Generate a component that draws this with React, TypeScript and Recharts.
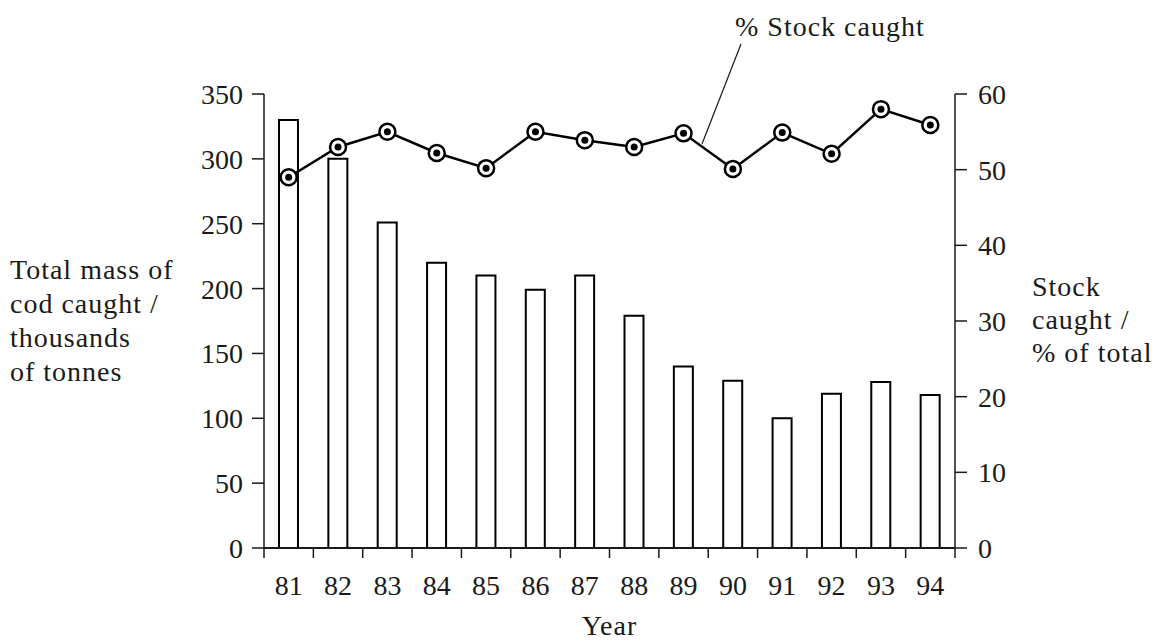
import { Bar, ComposedChart, Line, XAxis, YAxis } from 'recharts'

const years = ['81', '82', '83', '84', '85', '86', '87', '88', '89', '90', '91', '92', '93', '94']
// total mass of cod caught, thousands of tonnes
const massCaught = [330, 300, 251, 220, 210, 199, 210, 179, 140, 129, 100, 119, 128, 118]
// % of stock caught
const stockPct = [49, 53, 55, 52.2, 50.2, 55, 53.9, 53, 54.8, 50.1, 54.9, 52.1, 58, 55.9]
const massTicks = [0, 50, 100, 150, 200, 250, 300, 350]
const pctTicks = [0, 10, 20, 30, 40, 50, 60]

const W = 1169
const H = 642
const PLOT_LEFT = 264
const PLOT_RIGHT = 955
const PLOT_TOP = 94
const PLOT_BOTTOM = 548
const AXIS_W = 60
const XAXIS_H = 60
const FONT = '"Liberation Serif", "Times New Roman", serif'
const FS = 28
const INK = '#1a1a1a'

const data = years.map((year, i) => ({ year, mass: massCaught[i], pct: stockPct[i] }))

function YearTick(props: any) {
  const { x, payload, index } = props
  const band = (PLOT_RIGHT - PLOT_LEFT) / years.length
  return (
    <g>
      <line x1={x - band / 2} x2={x - band / 2} y1={PLOT_BOTTOM} y2={PLOT_BOTTOM + 10} stroke={INK} strokeWidth={1.5} />
      {index === years.length - 1 && (
        <line x1={x + band / 2} x2={x + band / 2} y1={PLOT_BOTTOM} y2={PLOT_BOTTOM + 10} stroke={INK} strokeWidth={1.5} />
      )}
      <text x={x} y={595} textAnchor="middle" fontFamily={FONT} fontSize={FS} fill={INK}>
        {payload.value}
      </text>
    </g>
  )
}

function RingDot(props: any) {
  const { cx, cy } = props
  if (cx == null || cy == null) return null
  return (
    <g>
      <circle cx={cx} cy={cy} r={8} fill="#fff" stroke="#000" strokeWidth={2.5} />
      <circle cx={cx} cy={cy} r={3.5} fill="#000" />
    </g>
  )
}

const tickStyle = { fontFamily: FONT, fontSize: FS, fill: INK }

export default function App() {
  return (
    <div style={{ position: 'absolute', left: 0, top: 0, width: W, height: H, background: '#fff' }}>
      <ComposedChart
        width={W}
        height={H}
        data={data}
        margin={{
          top: PLOT_TOP,
          left: PLOT_LEFT - AXIS_W,
          right: W - PLOT_RIGHT - AXIS_W,
          bottom: H - PLOT_BOTTOM - XAXIS_H,
        }}
      >
        <XAxis
          dataKey="year"
          height={XAXIS_H}
          tickLine={false}
          axisLine={{ stroke: INK, strokeWidth: 2 }}
          tick={<YearTick />}
          interval={0}
        />
        <YAxis
          yAxisId="mass"
          width={AXIS_W}
          domain={[0, 350]}
          ticks={massTicks}
          interval={0}
          tickSize={12}
          tickMargin={9}
          tick={tickStyle}
          tickLine={{ stroke: INK, strokeWidth: 1.5 }}
          axisLine={{ stroke: INK, strokeWidth: 1.5 }}
        />
        <YAxis
          yAxisId="pct"
          orientation="right"
          width={AXIS_W}
          domain={[0, 60]}
          ticks={pctTicks}
          interval={0}
          tickSize={12}
          tickMargin={11}
          tick={tickStyle}
          tickLine={{ stroke: INK, strokeWidth: 1.5 }}
          axisLine={{ stroke: INK, strokeWidth: 1.5 }}
        />
        <Bar yAxisId="mass" dataKey="mass" barSize={19} fill="#fff" stroke="#000" strokeWidth={2} isAnimationActive={false} />
        <Line
          yAxisId="pct"
          dataKey="pct"
          stroke="#000"
          strokeWidth={2.5}
          dot={<RingDot />}
          activeDot={false}
          isAnimationActive={false}
        />
      </ComposedChart>
      <svg
        width={W}
        height={H}
        style={{ position: 'absolute', left: 0, top: 0, pointerEvents: 'none' }}
        fontFamily={FONT}
        fontSize={FS}
        fill={INK}
      >
        <text letterSpacing={1}>
          <tspan x={10} y={279}>Total mass of</tspan>
          <tspan x={10} y={313}>cod caught /</tspan>
          <tspan x={10} y={347}>thousands</tspan>
          <tspan x={10} y={381}>of tonnes</tspan>
        </text>
        <text letterSpacing={1}>
          <tspan x={1032} y={296}>Stock</tspan>
          <tspan x={1032} y={329}>caught /</tspan>
          <tspan x={1032} y={362}>% of total</tspan>
        </text>
        <text x={(PLOT_LEFT + PLOT_RIGHT) / 2} y={635} textAnchor="middle" letterSpacing={1}>Year</text>
        <text x={735} y={36} letterSpacing={1}>% Stock caught</text>
        <line x1={741} y1={44} x2={702} y2={144} stroke={INK} strokeWidth={1.2} />
      </svg>
    </div>
  )
}
